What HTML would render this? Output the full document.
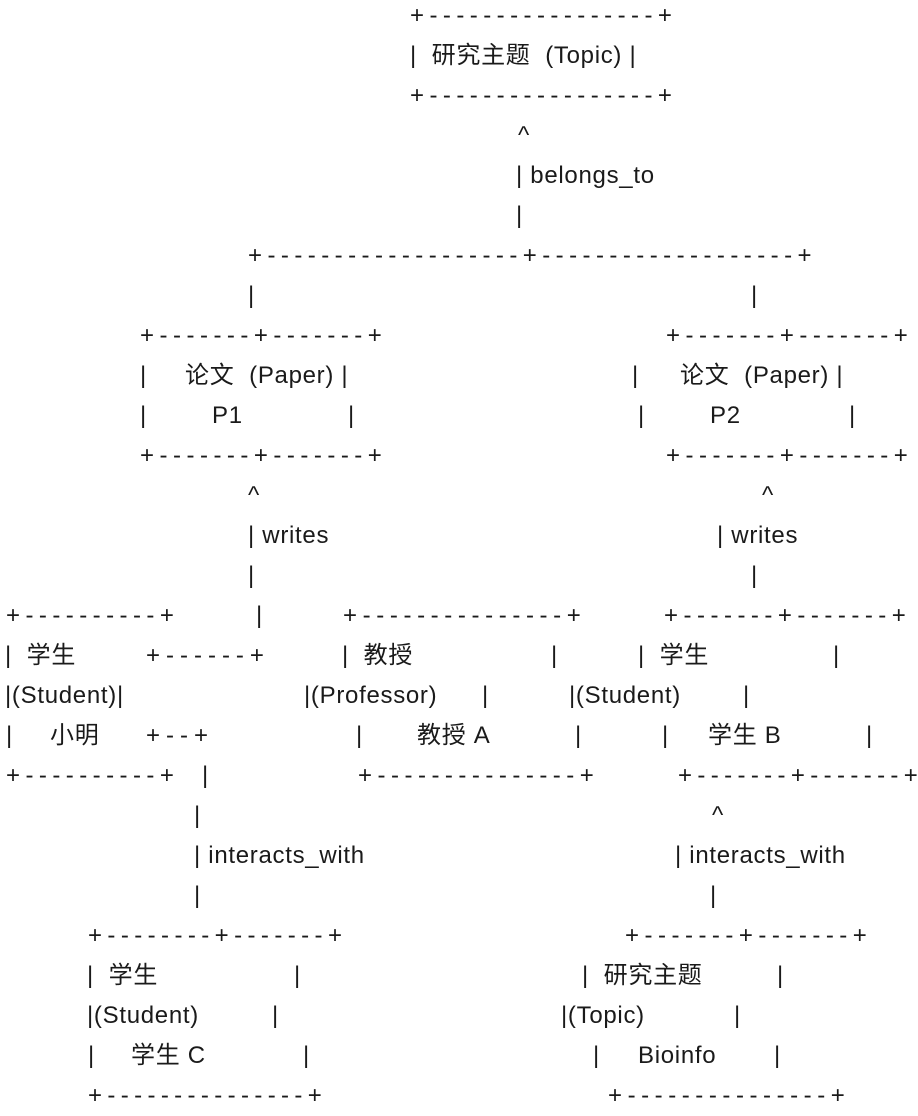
<!DOCTYPE html>
<html><head><meta charset="utf-8"><style>
html,body{margin:0;padding:0;background:#fff;}
body{width:918px;height:1115px;position:relative;overflow:hidden;font-family:"Liberation Sans","Noto Sans CJK SC",sans-serif;font-size:24px;color:#1a1a1a;}
body>div{margin-top:2px;}
.t{position:absolute;line-height:40px;height:40px;white-space:pre;letter-spacing:0.7px;}
.j{position:absolute;line-height:40px;height:40px;display:flex;justify-content:space-between;}
.j i{font-style:normal;}
</style></head><body>
<div class="j" style="left:410px;top:-6px;width:262px"><i>+</i><i>-</i><i>-</i><i>-</i><i>-</i><i>-</i><i>-</i><i>-</i><i>-</i><i>-</i><i>-</i><i>-</i><i>-</i><i>-</i><i>-</i><i>-</i><i>-</i><i>-</i><i>+</i></div>
<div class="t" style="left:410px;top:34px">|  研究主题  (Topic) |</div>
<div class="j" style="left:410px;top:74px;width:262px"><i>+</i><i>-</i><i>-</i><i>-</i><i>-</i><i>-</i><i>-</i><i>-</i><i>-</i><i>-</i><i>-</i><i>-</i><i>-</i><i>-</i><i>-</i><i>-</i><i>-</i><i>-</i><i>+</i></div>
<div class="t" style="left:518px;top:114px">^</div>
<div class="t" style="left:516px;top:154px">| belongs_to</div>
<div class="t" style="left:516px;top:194px">|</div>
<div class="j" style="left:248px;top:234px;width:564px"><i>+</i><i>-</i><i>-</i><i>-</i><i>-</i><i>-</i><i>-</i><i>-</i><i>-</i><i>-</i><i>-</i><i>-</i><i>-</i><i>-</i><i>-</i><i>-</i><i>-</i><i>-</i><i>-</i><i>-</i><i>+</i><i>-</i><i>-</i><i>-</i><i>-</i><i>-</i><i>-</i><i>-</i><i>-</i><i>-</i><i>-</i><i>-</i><i>-</i><i>-</i><i>-</i><i>-</i><i>-</i><i>-</i><i>-</i><i>-</i><i>+</i></div>
<div class="t" style="left:248px;top:274px">|</div>
<div class="t" style="left:751px;top:274px">|</div>
<div class="j" style="left:140px;top:314px;width:242px"><i>+</i><i>-</i><i>-</i><i>-</i><i>-</i><i>-</i><i>-</i><i>-</i><i>+</i><i>-</i><i>-</i><i>-</i><i>-</i><i>-</i><i>-</i><i>-</i><i>+</i></div>
<div class="j" style="left:666px;top:314px;width:242px"><i>+</i><i>-</i><i>-</i><i>-</i><i>-</i><i>-</i><i>-</i><i>-</i><i>+</i><i>-</i><i>-</i><i>-</i><i>-</i><i>-</i><i>-</i><i>-</i><i>+</i></div>
<div class="t" style="left:140px;top:354px">|</div>
<div class="t" style="left:185px;top:354px">论文  (Paper) |</div>
<div class="t" style="left:632px;top:354px">|</div>
<div class="t" style="left:680px;top:354px">论文  (Paper) |</div>
<div class="t" style="left:140px;top:394px">|</div>
<div class="t" style="left:212px;top:394px">P1</div>
<div class="t" style="left:348px;top:394px">|</div>
<div class="t" style="left:638px;top:394px">|</div>
<div class="t" style="left:710px;top:394px">P2</div>
<div class="t" style="left:849px;top:394px">|</div>
<div class="j" style="left:140px;top:434px;width:242px"><i>+</i><i>-</i><i>-</i><i>-</i><i>-</i><i>-</i><i>-</i><i>-</i><i>+</i><i>-</i><i>-</i><i>-</i><i>-</i><i>-</i><i>-</i><i>-</i><i>+</i></div>
<div class="j" style="left:666px;top:434px;width:242px"><i>+</i><i>-</i><i>-</i><i>-</i><i>-</i><i>-</i><i>-</i><i>-</i><i>+</i><i>-</i><i>-</i><i>-</i><i>-</i><i>-</i><i>-</i><i>-</i><i>+</i></div>
<div class="t" style="left:248px;top:474px">^</div>
<div class="t" style="left:762px;top:474px">^</div>
<div class="t" style="left:248px;top:514px">| writes</div>
<div class="t" style="left:717px;top:514px">| writes</div>
<div class="t" style="left:248px;top:554px">|</div>
<div class="t" style="left:751px;top:554px">|</div>
<div class="j" style="left:6px;top:594px;width:168px"><i>+</i><i>-</i><i>-</i><i>-</i><i>-</i><i>-</i><i>-</i><i>-</i><i>-</i><i>-</i><i>-</i><i>+</i></div>
<div class="t" style="left:256px;top:594px">|</div>
<div class="j" style="left:343px;top:594px;width:238px"><i>+</i><i>-</i><i>-</i><i>-</i><i>-</i><i>-</i><i>-</i><i>-</i><i>-</i><i>-</i><i>-</i><i>-</i><i>-</i><i>-</i><i>-</i><i>-</i><i>+</i></div>
<div class="j" style="left:664px;top:594px;width:242px"><i>+</i><i>-</i><i>-</i><i>-</i><i>-</i><i>-</i><i>-</i><i>-</i><i>+</i><i>-</i><i>-</i><i>-</i><i>-</i><i>-</i><i>-</i><i>-</i><i>+</i></div>
<div class="t" style="left:5px;top:634px">|  学生</div>
<div class="j" style="left:146px;top:634px;width:118px"><i>+</i><i>-</i><i>-</i><i>-</i><i>-</i><i>-</i><i>-</i><i>+</i></div>
<div class="t" style="left:342px;top:634px">|  教授</div>
<div class="t" style="left:551px;top:634px">|</div>
<div class="t" style="left:638px;top:634px">|  学生</div>
<div class="t" style="left:833px;top:634px">|</div>
<div class="t" style="left:5px;top:674px">|(Student)|</div>
<div class="t" style="left:304px;top:674px">|(Professor)</div>
<div class="t" style="left:482px;top:674px">|</div>
<div class="t" style="left:569px;top:674px">|(Student)</div>
<div class="t" style="left:743px;top:674px">|</div>
<div class="t" style="left:6px;top:714px">|</div>
<div class="t" style="left:50px;top:714px">小明</div>
<div class="j" style="left:146px;top:714px;width:62px"><i>+</i><i>-</i><i>-</i><i>+</i></div>
<div class="t" style="left:356px;top:714px">|</div>
<div class="t" style="left:417px;top:714px">教授 A</div>
<div class="t" style="left:575px;top:714px">|</div>
<div class="t" style="left:662px;top:714px">|</div>
<div class="t" style="left:708px;top:714px">学生 B</div>
<div class="t" style="left:866px;top:714px">|</div>
<div class="j" style="left:6px;top:754px;width:168px"><i>+</i><i>-</i><i>-</i><i>-</i><i>-</i><i>-</i><i>-</i><i>-</i><i>-</i><i>-</i><i>-</i><i>+</i></div>
<div class="t" style="left:202px;top:754px">|</div>
<div class="j" style="left:358px;top:754px;width:236px"><i>+</i><i>-</i><i>-</i><i>-</i><i>-</i><i>-</i><i>-</i><i>-</i><i>-</i><i>-</i><i>-</i><i>-</i><i>-</i><i>-</i><i>-</i><i>-</i><i>+</i></div>
<div class="j" style="left:678px;top:754px;width:240px"><i>+</i><i>-</i><i>-</i><i>-</i><i>-</i><i>-</i><i>-</i><i>-</i><i>+</i><i>-</i><i>-</i><i>-</i><i>-</i><i>-</i><i>-</i><i>-</i><i>+</i></div>
<div class="t" style="left:194px;top:794px">|</div>
<div class="t" style="left:712px;top:794px">^</div>
<div class="t" style="left:194px;top:834px">| interacts_with</div>
<div class="t" style="left:675px;top:834px">| interacts_with</div>
<div class="t" style="left:194px;top:874px">|</div>
<div class="t" style="left:710px;top:874px">|</div>
<div class="j" style="left:88px;top:914px;width:254px"><i>+</i><i>-</i><i>-</i><i>-</i><i>-</i><i>-</i><i>-</i><i>-</i><i>-</i><i>+</i><i>-</i><i>-</i><i>-</i><i>-</i><i>-</i><i>-</i><i>-</i><i>+</i></div>
<div class="j" style="left:625px;top:914px;width:242px"><i>+</i><i>-</i><i>-</i><i>-</i><i>-</i><i>-</i><i>-</i><i>-</i><i>+</i><i>-</i><i>-</i><i>-</i><i>-</i><i>-</i><i>-</i><i>-</i><i>+</i></div>
<div class="t" style="left:87px;top:954px">|  学生</div>
<div class="t" style="left:294px;top:954px">|</div>
<div class="t" style="left:582px;top:954px">|  研究主题</div>
<div class="t" style="left:777px;top:954px">|</div>
<div class="t" style="left:87px;top:994px">|(Student)</div>
<div class="t" style="left:272px;top:994px">|</div>
<div class="t" style="left:561px;top:994px">|(Topic)</div>
<div class="t" style="left:734px;top:994px">|</div>
<div class="t" style="left:88px;top:1034px">|</div>
<div class="t" style="left:131px;top:1034px">学生 C</div>
<div class="t" style="left:303px;top:1034px">|</div>
<div class="t" style="left:593px;top:1034px">|</div>
<div class="t" style="left:638px;top:1034px">Bioinfo</div>
<div class="t" style="left:774px;top:1034px">|</div>
<div class="j" style="left:88px;top:1074px;width:234px"><i>+</i><i>-</i><i>-</i><i>-</i><i>-</i><i>-</i><i>-</i><i>-</i><i>-</i><i>-</i><i>-</i><i>-</i><i>-</i><i>-</i><i>-</i><i>-</i><i>+</i></div>
<div class="j" style="left:608px;top:1074px;width:237px"><i>+</i><i>-</i><i>-</i><i>-</i><i>-</i><i>-</i><i>-</i><i>-</i><i>-</i><i>-</i><i>-</i><i>-</i><i>-</i><i>-</i><i>-</i><i>-</i><i>+</i></div>
</body></html>
